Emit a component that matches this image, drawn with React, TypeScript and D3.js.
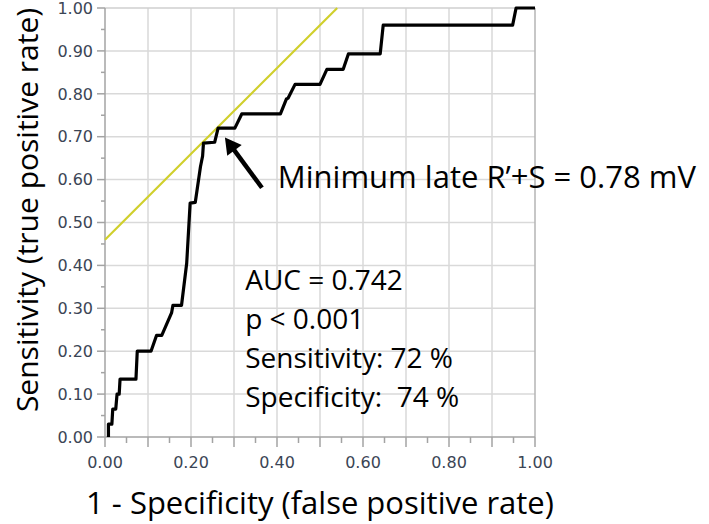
import React from 'react';
import * as d3 from 'd3';

// ROC curve points (1 - specificity, sensitivity)
const fpr = [0.008, 0.008, 0.016, 0.018, 0.025, 0.028, 0.033, 0.035, 0.072, 0.075, 0.107, 0.12, 0.132, 0.155, 0.158, 0.178, 0.19, 0.198, 0.21, 0.222, 0.227, 0.229, 0.255, 0.263, 0.302, 0.318, 0.408, 0.422, 0.426, 0.442, 0.5, 0.516, 0.554, 0.566, 0.64, 0.647, 0.948, 0.956, 1.0];
const tpr = [0.0, 0.03, 0.03, 0.065, 0.065, 0.1, 0.1, 0.135, 0.135, 0.2, 0.2, 0.237, 0.237, 0.29, 0.307, 0.307, 0.405, 0.545, 0.547, 0.63, 0.655, 0.685, 0.687, 0.72, 0.72, 0.753, 0.753, 0.788, 0.79, 0.822, 0.822, 0.857, 0.857, 0.893, 0.893, 0.96, 0.96, 1.0, 1.0];

// Tangent (cut-off) line
const cutX = [0.0, 0.54];
const cutY = [0.46, 1.0];

const xLabelTicks = [0, 0.2, 0.4, 0.6, 0.8, 1.0];
const yLabelTicks = [0, 0.1, 0.2, 0.3, 0.4, 0.5, 0.6, 0.7, 0.8, 0.9, 1.0];
const gridValues = [0.1, 0.2, 0.3, 0.4, 0.5, 0.6, 0.7, 0.8, 0.9];
const tickValues = d3.range(0, 21).map((i) => i * 0.05);

const statsLines = ['AUC = 0.742', 'p < 0.001', 'Sensitivity: 72 %', 'Specificity:  74 %'];
const statsAnchor = [0.326, 0.342];
const annotationText = 'Minimum late R\u2019+S = 0.78 mV';
const annotationAnchor = [0.402, 0.581];
const arrowFrom = [0.365, 0.581];
const arrowTo = [0.279, 0.698];

const xTitle = '1 - Specificity (false positive rate)';
const yTitle = 'Sensitivity (true positive rate)';

const W = 709;
const H = 524;
const FONT = '"Open Sans", sans-serif';
const TICK_FONT = '"DejaVu Sans", sans-serif';
const TICK_COLOR = '#3b4555';

export default function App() {
  const xs = d3.scaleLinear().domain([0, 1]).range([105, 535]);
  const ys = d3.scaleLinear().domain([0, 1]).range([437, 8]);

  const roc = d3.line<number>().x((_, i) => xs(fpr[i])).y((_, i) => ys(tpr[i]))(fpr.map((d) => d)) || '';
  const cut = d3.line<number>().x((_, i) => xs(cutX[i])).y((_, i) => ys(cutY[i]))(cutX) || '';

  const isMajor = (v: number) => Math.abs(v * 10 - Math.round(v * 10)) < 1e-6;

  // arrow geometry
  const tx = xs(arrowTo[0]);
  const ty = ys(arrowTo[1]);
  const fx = xs(arrowFrom[0]);
  const fy = ys(arrowFrom[1]);
  const dx = tx - fx;
  const dy = ty - fy;
  const len = Math.sqrt(dx * dx + dy * dy);
  const ux = dx / len;
  const uy = dy / len;
  const headLen = 16;
  const headHalf = 9;
  const bx = tx - ux * headLen;
  const by = ty - uy * headLen;
  const head = `${tx},${ty} ${bx - uy * headHalf},${by + ux * headHalf} ${bx + uy * headHalf},${by - ux * headHalf}`;

  return (
    <svg width={W} height={H} style={{ position: 'absolute', left: 0, top: 0, background: '#fff' }}>
      <rect x={0} y={0} width={W} height={H} fill="#fff" />
      {/* grid */}
      {gridValues.map((v) => (
        <line key={'gx' + v} x1={xs(v)} x2={xs(v)} y1={ys(0)} y2={ys(1)} stroke="#d9d9d9" strokeWidth={1.5} />
      ))}
      {gridValues.map((v) => (
        <line key={'gy' + v} x1={xs(0)} x2={xs(1)} y1={ys(v)} y2={ys(v)} stroke="#d9d9d9" strokeWidth={1.5} />
      ))}
      {/* frame */}
      <line x1={xs(0)} x2={xs(1)} y1={ys(1)} y2={ys(1)} stroke="#cfcfcf" strokeWidth={1.5} />
      <line x1={xs(1)} x2={xs(1)} y1={ys(0)} y2={ys(1)} stroke="#b5b5b5" strokeWidth={1.5} />
      {/* axes */}
      <line x1={xs(0)} x2={xs(1)} y1={ys(0)} y2={ys(0)} stroke="#a3a3a3" strokeWidth={1.5} />
      <line x1={xs(0)} x2={xs(0)} y1={ys(0)} y2={ys(1)} stroke="#a3a3a3" strokeWidth={1.5} />
      {tickValues.map((v) => (
        <line key={'tx' + v} x1={xs(v)} x2={xs(v)} y1={ys(0)} y2={ys(0) + (isMajor(v) ? 10 : 6)} stroke="#a3a3a3" strokeWidth={1.5} />
      ))}
      {tickValues.map((v) => (
        <line key={'ty' + v} x1={xs(0) - (isMajor(v) ? 8 : 4)} x2={xs(0)} y1={ys(v)} y2={ys(v)} stroke="#a3a3a3" strokeWidth={1.5} />
      ))}
      {xLabelTicks.map((v) => (
        <text key={'lx' + v} x={xs(v)} y={ys(0) + 31} textAnchor="middle" fontFamily={TICK_FONT} fontSize={16} fill={TICK_COLOR}>
          {v.toFixed(2)}
        </text>
      ))}
      {yLabelTicks.map((v) => (
        <text key={'ly' + v} x={xs(0) - 12} y={ys(v)} dy="0.36em" textAnchor="end" fontFamily={TICK_FONT} fontSize={16} fill={TICK_COLOR}>
          {v.toFixed(2)}
        </text>
      ))}
      {/* cut-off line */}
      <path d={cut} fill="none" stroke="#d0cf2c" strokeWidth={2.2} />
      {/* ROC curve */}
      <path d={roc} fill="none" stroke="#000" strokeWidth={3.2} strokeLinejoin="round" />
      {/* arrow */}
      <line x1={fx} y1={fy} x2={bx + ux * 2} y2={by + uy * 2} stroke="#000" strokeWidth={4.5} />
      <polygon points={head} fill="#000" />
      {/* annotations */}
      <text x={xs(annotationAnchor[0])} y={ys(annotationAnchor[1])} fontFamily={FONT} fontSize={31} fill="#000" style={{ whiteSpace: 'pre' }}>
        {annotationText}
      </text>
      {statsLines.map((s, i) => (
        <text key={s} x={xs(statsAnchor[0])} y={ys(statsAnchor[1]) + i * 39} fontFamily={FONT} fontSize={28} fill="#000" style={{ whiteSpace: 'pre' }}>
          {s}
        </text>
      ))}
      {/* axis titles */}
      <text x={(xs(0) + xs(1)) / 2} y={514} textAnchor="middle" fontFamily={FONT} fontSize={31} fill="#000">
        {xTitle}
      </text>
      <text transform={`translate(38, 210) rotate(-90)`} textAnchor="middle" fontFamily={FONT} fontSize={30} fill="#000">
        {yTitle}
      </text>
    </svg>
  );
}
